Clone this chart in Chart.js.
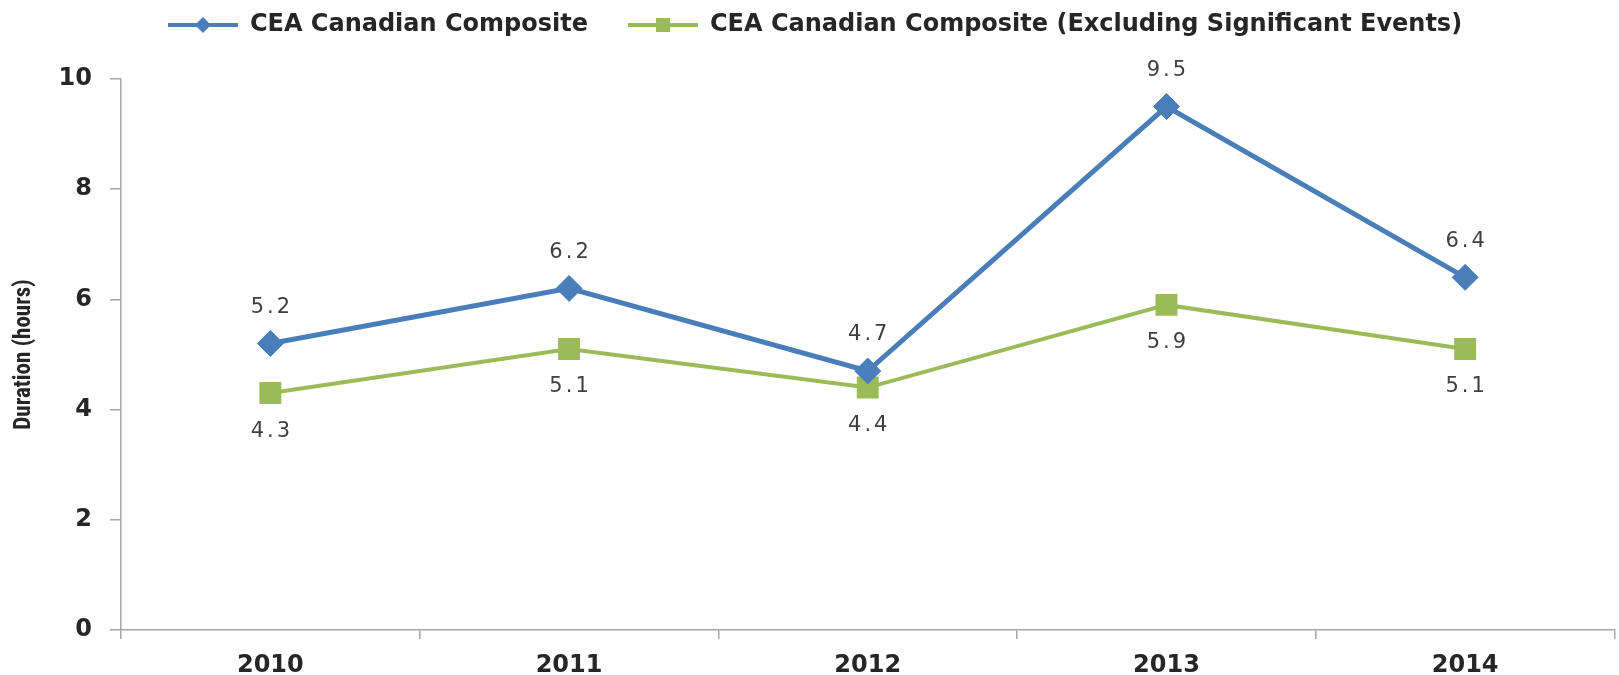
<!DOCTYPE html>
<html>
<head>
<meta charset="utf-8">
<title>CEA Canadian Composite - Duration</title>
<script src="https://cdn.jsdelivr.net/npm/chart.js@4.4.1/dist/chart.umd.min.js"></script>
<style>
  html, body { margin: 0; padding: 0; background: #ffffff; overflow: hidden; }
  #durationChart { display: block; }
</style>
</head>
<body>
<canvas id="durationChart" width="1630" height="675"></canvas>
<script>
// Data
const years = ["2010", "2011", "2012", "2013", "2014"];
const composite = [5.2, 6.2, 4.7, 9.5, 6.4];
const compositeExSig = [4.3, 5.1, 4.4, 5.9, 5.1];
const yTicks = [0, 2, 4, 6, 8, 10];
const seriesNames = [
  "CEA Canadian Composite",
  "CEA Canadian Composite (Excluding Significant Events)"
];

window.addEventListener("DOMContentLoaded", () => {
  if (typeof Chart === "undefined") {
    return;
  }

  const blue = "#4A7EBB";
  const green = "#9BBB59";
  const axisGrey = "#a6a6a6";
  const textDark = "#262626";
  const labelGrey = "#404040";
  const sans = "'DejaVu Sans', Verdana, sans-serif";

  // Legend swatch: short line with the series marker on it
  const makeSwatch = (color, shape) => {
    const c = document.createElement("canvas");
    c.width = 70;
    c.height = 24;
    const ctx = c.getContext("2d");
    ctx.strokeStyle = color;
    ctx.lineWidth = 4;
    ctx.beginPath();
    ctx.moveTo(0, 12);
    ctx.lineTo(70, 12);
    ctx.stroke();
    ctx.fillStyle = color;
    if (shape === "diamond") {
      ctx.beginPath();
      ctx.moveTo(35, 4);
      ctx.lineTo(43, 12);
      ctx.lineTo(35, 20);
      ctx.lineTo(27, 12);
      ctx.closePath();
      ctx.fill();
    } else {
      ctx.fillRect(28, 5, 14, 14);
    }
    return c;
  };
  const swatches = [makeSwatch(blue, "diamond"), makeSwatch(green, "square")];

  // Value labels above (first series) / below (second series) each point
  const valueLabels = {
    id: "valueLabels",
    afterDatasetsDraw(chart) {
      const ctx = chart.ctx;
      ctx.save();
      ctx.font = "21px " + sans;
      ctx.letterSpacing = "3px";
      ctx.fillStyle = labelGrey;
      ctx.textAlign = "center";
      ctx.textBaseline = "middle";
      chart.data.datasets.forEach((ds, i) => {
        const meta = chart.getDatasetMeta(i);
        const offset = i === 0 ? -36 : 38;
        meta.data.forEach((pt, j) => {
          ctx.fillText(ds.data[j].toFixed(1), pt.x + 1.5, pt.y + offset);
        });
      });
      ctx.restore();
    }
  };

  // Keep the gap between legend and plot like the original
  const legendGap = {
    id: "legendGap",
    beforeLayout(chart) {
      const legend = chart.legend;
      if (!legend || legend._gapPatched) return;
      const fit = legend.fit.bind(legend);
      legend.fit = () => {
        fit();
        legend.height = 106;
      };
      legend._gapPatched = true;
    }
  };

  const canvas = document.getElementById("durationChart");

  new Chart(canvas, {
    type: "line",
    data: {
      labels: years,
      datasets: [
        {
          label: seriesNames[0],
          data: composite,
          borderColor: blue,
          backgroundColor: blue,
          borderWidth: 5,
          tension: 0,
          fill: false,
          pointStyle: "rectRot",
          pointRadius: 13,
          pointBackgroundColor: blue,
          pointBorderColor: blue,
          pointBorderWidth: 1
        },
        {
          label: seriesNames[1],
          data: compositeExSig,
          borderColor: green,
          backgroundColor: green,
          borderWidth: 4,
          tension: 0,
          fill: false,
          pointStyle: "rect",
          pointRadius: 15.5,
          pointBackgroundColor: green,
          pointBorderColor: green,
          pointBorderWidth: 0
        }
      ]
    },
    options: {
      responsive: false,
      animation: false,
      layout: { padding: { top: -27, right: 0, bottom: 0, left: 0 } },
      plugins: {
        tooltip: { enabled: false },
        legend: {
          position: "top",
          align: "center",
          labels: {
            usePointStyle: true,
            pointStyleWidth: 70,
            padding: 40,
            color: textDark,
            font: { family: sans, size: 24, weight: "bold" },
            generateLabels: (chart) =>
              chart.data.datasets.map((ds, i) => ({
                text: ds.label,
                pointStyle: swatches[i],
                fillStyle: ds.borderColor,
                strokeStyle: ds.borderColor,
                lineWidth: 0,
                hidden: false,
                datasetIndex: i,
                fontColor: textDark
              }))
          }
        }
      },
      scales: {
        x: {
          type: "category",
          offset: true,
          afterFit: (scale) => {
            scale.height = 45;
          },
          grid: {
            offset: true,
            drawOnChartArea: false,
            drawTicks: true,
            tickLength: 9,
            color: axisGrey,
            lineWidth: 1.5
          },
          border: { display: true, color: axisGrey, width: 1.5 },
          ticks: {
            color: textDark,
            padding: 12,
            maxRotation: 0,
            font: { family: sans, size: 24, weight: "bold" }
          }
        },
        y: {
          type: "linear",
          min: 0,
          max: 10,
          afterBuildTicks: (scale) => {
            scale.ticks = yTicks.map((v) => ({ value: v }));
          },
          afterFit: (scale) => {
            scale.width = 121;
          },
          grid: {
            drawOnChartArea: false,
            drawTicks: true,
            tickLength: 11,
            color: axisGrey,
            lineWidth: 1.5
          },
          border: { display: true, color: axisGrey, width: 1.5 },
          ticks: {
            color: textDark,
            padding: 18,
            font: { family: sans, size: 24, weight: "bold" }
          },
          title: {
            display: true,
            text: "Duration (hours)",
            color: textDark,
            padding: { top: 10, bottom: 0 },
            font: { family: "'Liberation Sans Narrow', 'Roboto Condensed', Roboto, sans-serif", size: 23, weight: "bold" }
          }
        }
      }
    },
    plugins: [valueLabels, legendGap]
  });
});
</script>
</body>
</html>
